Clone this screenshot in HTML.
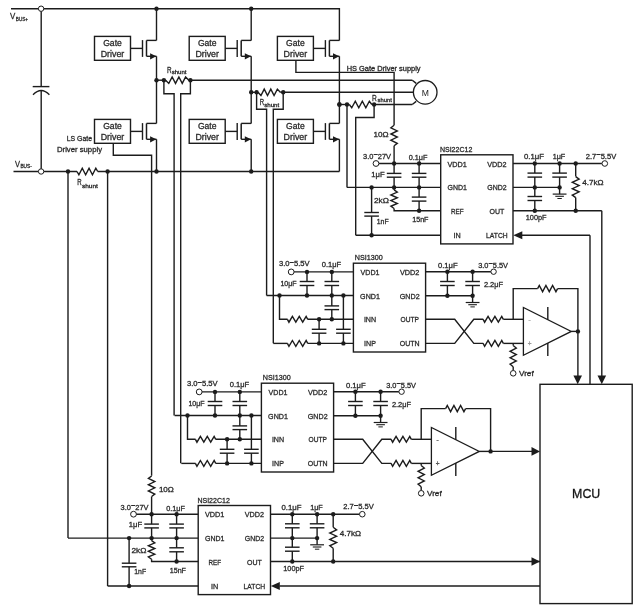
<!DOCTYPE html>
<html><head><meta charset="utf-8"><style>html,body{margin:0;padding:0;background:#fff;width:634px;height:611px;overflow:hidden}svg{display:block;will-change:transform}svg text{font-family:"Liberation Sans",sans-serif}</style></head><body>
<svg width="634" height="611" viewBox="0 0 634 611"><polyline points="11,8.7 339.4,8.7 339.4,40.4" fill="none" stroke="#1c1c1c" stroke-width="1.4"/>
<circle cx="156.5" cy="8.7" r="2.2" fill="#1c1c1c"/>
<circle cx="251.2" cy="8.7" r="2.2" fill="#1c1c1c"/>
<polyline points="41.2,8.7 41.2,86.6" fill="none" stroke="#1c1c1c" stroke-width="1.4"/>
<polyline points="32.7,86.6 49.4,86.6" fill="none" stroke="#1c1c1c" stroke-width="1.4"/>
<path d="M33,94.8 Q41.2,86.2 49.4,94.8" fill="none" stroke="#1c1c1c" stroke-width="1.3"/>
<polyline points="41.2,90.5 41.2,171.5" fill="none" stroke="#1c1c1c" stroke-width="1.4"/>
<circle cx="41.1" cy="8.7" r="2.7" fill="#fff" stroke="#1c1c1c" stroke-width="1"/>
<polyline points="13.5,171.5 77,171.5" fill="none" stroke="#1c1c1c" stroke-width="1.4"/>
<polyline points="77,171.5 78.87,174.8 82.26,168.2 85.65,174.8 89.05,168.2 92.44,174.8 95.83,168.2 97.7,171.5" fill="none" stroke="#1c1c1c" stroke-width="1.4"/>
<polyline points="97.7,171.5 339.4,171.5" fill="none" stroke="#1c1c1c" stroke-width="1.4"/>
<circle cx="41.1" cy="171.5" r="2.7" fill="#fff" stroke="#1c1c1c" stroke-width="1"/>
<circle cx="68" cy="171.5" r="2.2" fill="#1c1c1c"/>
<circle cx="107.6" cy="171.5" r="2.2" fill="#1c1c1c"/>
<circle cx="156.5" cy="171.5" r="2.2" fill="#1c1c1c"/>
<circle cx="251.2" cy="171.5" r="2.2" fill="#1c1c1c"/>
<text x="10.1" y="19.3" font-size="9.8" text-anchor="start" fill="#2a2a2a" stroke="#2a2a2a" stroke-width="0.3" textLength="5.3" lengthAdjust="spacingAndGlyphs">V</text>
<text x="15.8" y="21.2" font-size="5.8" text-anchor="start" fill="#2a2a2a" stroke="#2a2a2a" stroke-width="0.3" textLength="12.2" lengthAdjust="spacingAndGlyphs">BUS+</text>
<text x="15" y="166.8" font-size="9.4" text-anchor="start" fill="#2a2a2a" stroke="#2a2a2a" stroke-width="0.3" textLength="5" lengthAdjust="spacingAndGlyphs">V</text>
<text x="20.4" y="168.2" font-size="5.6" text-anchor="start" fill="#2a2a2a" stroke="#2a2a2a" stroke-width="0.3" textLength="11.4" lengthAdjust="spacingAndGlyphs">BUS-</text>
<text x="77.3" y="185" font-size="8.4" text-anchor="start" fill="#2a2a2a" stroke="#2a2a2a" stroke-width="0.3" textLength="4.4" lengthAdjust="spacingAndGlyphs">R</text>
<text x="81.9" y="187.5" font-size="5.9" text-anchor="start" fill="#2a2a2a" stroke="#2a2a2a" stroke-width="0.3" textLength="16" lengthAdjust="spacingAndGlyphs">shunt</text>
<polyline points="142.5,40.1 142.5,56.9" fill="none" stroke="#1c1c1c" stroke-width="1.4"/>
<polyline points="146.5,40.4 146.5,56.3" fill="none" stroke="#1c1c1c" stroke-width="1.5"/>
<polyline points="146.5,40.4 156.5,40.4" fill="none" stroke="#1c1c1c" stroke-width="1.4"/>
<polyline points="146.5,56.3 156.5,56.3" fill="none" stroke="#1c1c1c" stroke-width="1.4"/>
<polygon points="156.3,56.3 150.1,53.2 150.1,59.4" fill="#1c1c1c"/>
<polyline points="130.5,48.4 142.5,48.4" fill="none" stroke="#1c1c1c" stroke-width="1.4"/>
<rect x="94.5" y="36.4" width="36" height="23.9" fill="none" stroke="#1c1c1c" stroke-width="1.4"/>
<text x="112.5" y="45.9" font-size="8.6" text-anchor="middle" fill="#2a2a2a" stroke="#2a2a2a" stroke-width="0.3" textLength="18.6" lengthAdjust="spacingAndGlyphs">Gate</text>
<text x="112.5" y="57.3" font-size="8.6" text-anchor="middle" fill="#2a2a2a" stroke="#2a2a2a" stroke-width="0.3" textLength="23.6" lengthAdjust="spacingAndGlyphs">Driver</text>
<polyline points="142.5,123.1 142.5,139.9" fill="none" stroke="#1c1c1c" stroke-width="1.4"/>
<polyline points="146.5,123.4 146.5,139.3" fill="none" stroke="#1c1c1c" stroke-width="1.5"/>
<polyline points="146.5,123.4 156.5,123.4" fill="none" stroke="#1c1c1c" stroke-width="1.4"/>
<polyline points="146.5,139.3 156.5,139.3" fill="none" stroke="#1c1c1c" stroke-width="1.4"/>
<polygon points="156.3,139.3 150.1,136.2 150.1,142.4" fill="#1c1c1c"/>
<polyline points="130.5,131.4 142.5,131.4" fill="none" stroke="#1c1c1c" stroke-width="1.4"/>
<rect x="94.5" y="119.4" width="36" height="23.9" fill="none" stroke="#1c1c1c" stroke-width="1.4"/>
<text x="112.5" y="128.9" font-size="8.6" text-anchor="middle" fill="#2a2a2a" stroke="#2a2a2a" stroke-width="0.3" textLength="18.6" lengthAdjust="spacingAndGlyphs">Gate</text>
<text x="112.5" y="140.3" font-size="8.6" text-anchor="middle" fill="#2a2a2a" stroke="#2a2a2a" stroke-width="0.3" textLength="23.6" lengthAdjust="spacingAndGlyphs">Driver</text>
<polyline points="156.5,8.7 156.5,40.4" fill="none" stroke="#1c1c1c" stroke-width="1.4"/>
<polyline points="156.5,56.3 156.5,123.4" fill="none" stroke="#1c1c1c" stroke-width="1.4"/>
<polyline points="156.5,139.3 156.5,171.5" fill="none" stroke="#1c1c1c" stroke-width="1.4"/>
<circle cx="156.5" cy="80.2" r="2.2" fill="#1c1c1c"/>
<polyline points="237.2,40.1 237.2,56.9" fill="none" stroke="#1c1c1c" stroke-width="1.4"/>
<polyline points="241.2,40.4 241.2,56.3" fill="none" stroke="#1c1c1c" stroke-width="1.5"/>
<polyline points="241.2,40.4 251.2,40.4" fill="none" stroke="#1c1c1c" stroke-width="1.4"/>
<polyline points="241.2,56.3 251.2,56.3" fill="none" stroke="#1c1c1c" stroke-width="1.4"/>
<polygon points="251,56.3 244.8,53.2 244.8,59.4" fill="#1c1c1c"/>
<polyline points="225.2,48.4 237.2,48.4" fill="none" stroke="#1c1c1c" stroke-width="1.4"/>
<rect x="189.2" y="36.4" width="36" height="23.9" fill="none" stroke="#1c1c1c" stroke-width="1.4"/>
<text x="207.2" y="45.9" font-size="8.6" text-anchor="middle" fill="#2a2a2a" stroke="#2a2a2a" stroke-width="0.3" textLength="18.6" lengthAdjust="spacingAndGlyphs">Gate</text>
<text x="207.2" y="57.3" font-size="8.6" text-anchor="middle" fill="#2a2a2a" stroke="#2a2a2a" stroke-width="0.3" textLength="23.6" lengthAdjust="spacingAndGlyphs">Driver</text>
<polyline points="237.2,123.1 237.2,139.9" fill="none" stroke="#1c1c1c" stroke-width="1.4"/>
<polyline points="241.2,123.4 241.2,139.3" fill="none" stroke="#1c1c1c" stroke-width="1.5"/>
<polyline points="241.2,123.4 251.2,123.4" fill="none" stroke="#1c1c1c" stroke-width="1.4"/>
<polyline points="241.2,139.3 251.2,139.3" fill="none" stroke="#1c1c1c" stroke-width="1.4"/>
<polygon points="251,139.3 244.8,136.2 244.8,142.4" fill="#1c1c1c"/>
<polyline points="225.2,131.4 237.2,131.4" fill="none" stroke="#1c1c1c" stroke-width="1.4"/>
<rect x="189.2" y="119.4" width="36" height="23.9" fill="none" stroke="#1c1c1c" stroke-width="1.4"/>
<text x="207.2" y="128.9" font-size="8.6" text-anchor="middle" fill="#2a2a2a" stroke="#2a2a2a" stroke-width="0.3" textLength="18.6" lengthAdjust="spacingAndGlyphs">Gate</text>
<text x="207.2" y="140.3" font-size="8.6" text-anchor="middle" fill="#2a2a2a" stroke="#2a2a2a" stroke-width="0.3" textLength="23.6" lengthAdjust="spacingAndGlyphs">Driver</text>
<polyline points="251.2,8.7 251.2,40.4" fill="none" stroke="#1c1c1c" stroke-width="1.4"/>
<polyline points="251.2,56.3 251.2,123.4" fill="none" stroke="#1c1c1c" stroke-width="1.4"/>
<polyline points="251.2,139.3 251.2,171.5" fill="none" stroke="#1c1c1c" stroke-width="1.4"/>
<circle cx="251.2" cy="92.3" r="2.2" fill="#1c1c1c"/>
<polyline points="325.4,40.1 325.4,56.9" fill="none" stroke="#1c1c1c" stroke-width="1.4"/>
<polyline points="329.4,40.4 329.4,56.3" fill="none" stroke="#1c1c1c" stroke-width="1.5"/>
<polyline points="329.4,40.4 339.4,40.4" fill="none" stroke="#1c1c1c" stroke-width="1.4"/>
<polyline points="329.4,56.3 339.4,56.3" fill="none" stroke="#1c1c1c" stroke-width="1.4"/>
<polygon points="339.2,56.3 333,53.2 333,59.4" fill="#1c1c1c"/>
<polyline points="313.4,48.4 325.4,48.4" fill="none" stroke="#1c1c1c" stroke-width="1.4"/>
<rect x="277.4" y="36.4" width="36" height="23.9" fill="none" stroke="#1c1c1c" stroke-width="1.4"/>
<text x="295.4" y="45.9" font-size="8.6" text-anchor="middle" fill="#2a2a2a" stroke="#2a2a2a" stroke-width="0.3" textLength="18.6" lengthAdjust="spacingAndGlyphs">Gate</text>
<text x="295.4" y="57.3" font-size="8.6" text-anchor="middle" fill="#2a2a2a" stroke="#2a2a2a" stroke-width="0.3" textLength="23.6" lengthAdjust="spacingAndGlyphs">Driver</text>
<polyline points="325.4,123.1 325.4,139.9" fill="none" stroke="#1c1c1c" stroke-width="1.4"/>
<polyline points="329.4,123.4 329.4,139.3" fill="none" stroke="#1c1c1c" stroke-width="1.5"/>
<polyline points="329.4,123.4 339.4,123.4" fill="none" stroke="#1c1c1c" stroke-width="1.4"/>
<polyline points="329.4,139.3 339.4,139.3" fill="none" stroke="#1c1c1c" stroke-width="1.4"/>
<polygon points="339.2,139.3 333,136.2 333,142.4" fill="#1c1c1c"/>
<polyline points="313.4,131.4 325.4,131.4" fill="none" stroke="#1c1c1c" stroke-width="1.4"/>
<rect x="277.4" y="119.4" width="36" height="23.9" fill="none" stroke="#1c1c1c" stroke-width="1.4"/>
<text x="295.4" y="128.9" font-size="8.6" text-anchor="middle" fill="#2a2a2a" stroke="#2a2a2a" stroke-width="0.3" textLength="18.6" lengthAdjust="spacingAndGlyphs">Gate</text>
<text x="295.4" y="140.3" font-size="8.6" text-anchor="middle" fill="#2a2a2a" stroke="#2a2a2a" stroke-width="0.3" textLength="23.6" lengthAdjust="spacingAndGlyphs">Driver</text>
<polyline points="339.4,56.3 339.4,123.4" fill="none" stroke="#1c1c1c" stroke-width="1.4"/>
<polyline points="339.4,139.3 339.4,171.5" fill="none" stroke="#1c1c1c" stroke-width="1.4"/>
<circle cx="339.4" cy="104.5" r="2.2" fill="#1c1c1c"/>
<polyline points="113.3,143.1 113.3,155.2 151.6,155.2 151.6,475.8" fill="none" stroke="#1c1c1c" stroke-width="1.4"/>
<polyline points="295.9,60.3 295.9,72.4 394.1,72.4 394.1,125.3" fill="none" stroke="#1c1c1c" stroke-width="1.4"/>
<text x="66.8" y="141.1" font-size="7.5" text-anchor="start" fill="#2a2a2a" stroke="#2a2a2a" stroke-width="0.3" textLength="25.2" lengthAdjust="spacingAndGlyphs">LS Gate</text>
<text x="57" y="152" font-size="7.5" text-anchor="start" fill="#2a2a2a" stroke="#2a2a2a" stroke-width="0.3" textLength="45" lengthAdjust="spacingAndGlyphs">Driver supply</text>
<text x="346.7" y="71.1" font-size="6.9" text-anchor="start" fill="#2a2a2a" stroke="#2a2a2a" stroke-width="0.3" textLength="73.8" lengthAdjust="spacingAndGlyphs">HS Gate Driver supply</text>
<polyline points="156.5,80.2 165.6,80.2" fill="none" stroke="#1c1c1c" stroke-width="1.4"/>
<polyline points="165.6,80.2 168.79,83.4 172.16,77 175.52,83.4 178.88,77 182.24,83.4 185.61,77 188.8,80.2" fill="none" stroke="#1c1c1c" stroke-width="1.4"/>
<polyline points="188.8,80.2 412.3,80.2" fill="none" stroke="#1c1c1c" stroke-width="1.4"/>
<polyline points="412.3,80.2 416.2,83.4" fill="none" stroke="#1c1c1c" stroke-width="1.4"/>
<circle cx="163.9" cy="80.2" r="2.2" fill="#1c1c1c"/>
<circle cx="190.4" cy="80.2" r="2.2" fill="#1c1c1c"/>
<polyline points="163.9,80.2 163.9,93.8 174.1,93.8 174.1,415.6" fill="none" stroke="#1c1c1c" stroke-width="1.4"/>
<polyline points="190.4,80.2 190.4,93.8 180.7,93.8 180.7,463.3" fill="none" stroke="#1c1c1c" stroke-width="1.4"/>
<text x="167" y="72.9" font-size="8.4" text-anchor="start" fill="#2a2a2a" stroke="#2a2a2a" stroke-width="0.3" textLength="4.6" lengthAdjust="spacingAndGlyphs">R</text>
<text x="171.7" y="74.1" font-size="5.8" text-anchor="start" fill="#2a2a2a" stroke="#2a2a2a" stroke-width="0.3" textLength="14.8" lengthAdjust="spacingAndGlyphs">shunt</text>
<polyline points="251.2,92.3 258,92.3" fill="none" stroke="#1c1c1c" stroke-width="1.4"/>
<polyline points="258,92.3 260.95,95.5 264.23,89.1 267.51,95.5 270.79,89.1 274.07,95.5 277.35,89.1 280.3,92.3" fill="none" stroke="#1c1c1c" stroke-width="1.4"/>
<polyline points="280.3,92.3 413.4,92.3" fill="none" stroke="#1c1c1c" stroke-width="1.4"/>
<circle cx="256.6" cy="92.3" r="2.2" fill="#1c1c1c"/>
<circle cx="283.2" cy="92.3" r="2.2" fill="#1c1c1c"/>
<polyline points="256.6,92.3 256.6,109.3 266.6,109.3 266.6,295.5" fill="none" stroke="#1c1c1c" stroke-width="1.4"/>
<polyline points="283.2,92.3 283.2,109.3 273.3,109.3 273.3,343.3" fill="none" stroke="#1c1c1c" stroke-width="1.4"/>
<text x="259.8" y="105.4" font-size="8.6" text-anchor="start" fill="#2a2a2a" stroke="#2a2a2a" stroke-width="0.3" textLength="4.4" lengthAdjust="spacingAndGlyphs">R</text>
<text x="264.2" y="106.6" font-size="5.8" text-anchor="start" fill="#2a2a2a" stroke="#2a2a2a" stroke-width="0.3" textLength="15" lengthAdjust="spacingAndGlyphs">shunt</text>
<polyline points="339.4,104.5 349.3,104.5" fill="none" stroke="#1c1c1c" stroke-width="1.4"/>
<polyline points="349.3,104.5 351.76,107.8 355.28,101.2 358.79,107.8 362.31,101.2 365.82,107.8 369.34,101.2 371.8,104.5" fill="none" stroke="#1c1c1c" stroke-width="1.4"/>
<polyline points="371.8,104.5 412.3,104.5" fill="none" stroke="#1c1c1c" stroke-width="1.4"/>
<polyline points="412.3,104.5 416.2,101.4" fill="none" stroke="#1c1c1c" stroke-width="1.4"/>
<circle cx="339.4" cy="104.5" r="2.2" fill="#1c1c1c"/>
<circle cx="347" cy="104.5" r="2.2" fill="#1c1c1c"/>
<circle cx="374.1" cy="104.5" r="2.2" fill="#1c1c1c"/>
<polyline points="347,104.5 347,187.4" fill="none" stroke="#1c1c1c" stroke-width="1.4"/>
<polyline points="374.1,104.5 374.1,117.5 355.7,117.5 355.7,235.3" fill="none" stroke="#1c1c1c" stroke-width="1.4"/>
<text x="371.9" y="100.6" font-size="8.9" text-anchor="start" fill="#2a2a2a" stroke="#2a2a2a" stroke-width="0.3" textLength="4.8" lengthAdjust="spacingAndGlyphs">R</text>
<text x="377.5" y="102.1" font-size="5.8" text-anchor="start" fill="#2a2a2a" stroke="#2a2a2a" stroke-width="0.3" textLength="14.3" lengthAdjust="spacingAndGlyphs">shunt</text>
<circle cx="425.2" cy="92.3" r="11.8" fill="none" stroke="#1c1c1c" stroke-width="1.3"/>
<text x="425.3" y="95.9" font-size="9.8" text-anchor="middle" fill="#222" textLength="7.2" lengthAdjust="spacingAndGlyphs">M</text>
<polyline points="394.1,125.3 390.9,127.78 397.3,130.89 390.9,134 397.3,137.1 390.9,140.21 397.3,143.32 394.1,145.8" fill="none" stroke="#1c1c1c" stroke-width="1.4"/>
<polyline points="394.1,145.8 394.1,163.5" fill="none" stroke="#1c1c1c" stroke-width="1.4"/>
<circle cx="376" cy="163.5" r="2.9" fill="#fff" stroke="#1c1c1c" stroke-width="1"/>
<polyline points="378.9,163.5 440.7,163.5" fill="none" stroke="#1c1c1c" stroke-width="1.4"/>
<circle cx="394.1" cy="163.5" r="2.2" fill="#1c1c1c"/>
<circle cx="419.1" cy="163.5" r="2.2" fill="#1c1c1c"/>
<polyline points="394.1,163.5 394.1,173.4" fill="none" stroke="#1c1c1c" stroke-width="1.4"/>
<polyline points="386.8,173.4 401.4,173.4" fill="none" stroke="#1c1c1c" stroke-width="1.4"/>
<polyline points="386.8,177.2 401.4,177.2" fill="none" stroke="#1c1c1c" stroke-width="1.4"/>
<polyline points="394.1,177.2 394.1,187.4" fill="none" stroke="#1c1c1c" stroke-width="1.4"/>
<polyline points="419.1,163.5 419.1,173.4" fill="none" stroke="#1c1c1c" stroke-width="1.4"/>
<polyline points="411.8,173.4 426.4,173.4" fill="none" stroke="#1c1c1c" stroke-width="1.4"/>
<polyline points="411.8,177.2 426.4,177.2" fill="none" stroke="#1c1c1c" stroke-width="1.4"/>
<polyline points="419.1,177.2 419.1,187.4" fill="none" stroke="#1c1c1c" stroke-width="1.4"/>
<polyline points="347,187.4 440.7,187.4" fill="none" stroke="#1c1c1c" stroke-width="1.4"/>
<circle cx="371.6" cy="187.4" r="2.2" fill="#1c1c1c"/>
<circle cx="394.1" cy="187.4" r="2.2" fill="#1c1c1c"/>
<circle cx="419.1" cy="187.4" r="2.2" fill="#1c1c1c"/>
<polyline points="394.1,189.9 397.3,192.15 390.9,194.97 397.3,197.79 390.9,200.61 397.3,203.43 390.9,206.25 394.1,208.5" fill="none" stroke="#1c1c1c" stroke-width="1.4"/>
<polyline points="394.1,187.4 394.1,189.9" fill="none" stroke="#1c1c1c" stroke-width="1.4"/>
<polyline points="394.1,208.5 394.1,210.8 440.7,210.8" fill="none" stroke="#1c1c1c" stroke-width="1.4"/>
<polyline points="419.1,187.4 419.1,197.1" fill="none" stroke="#1c1c1c" stroke-width="1.4"/>
<polyline points="411.8,197.1 426.4,197.1" fill="none" stroke="#1c1c1c" stroke-width="1.4"/>
<polyline points="411.8,201.1 426.4,201.1" fill="none" stroke="#1c1c1c" stroke-width="1.4"/>
<polyline points="419.1,201.1 419.1,210.8" fill="none" stroke="#1c1c1c" stroke-width="1.4"/>
<circle cx="419.1" cy="210.8" r="2.2" fill="#1c1c1c"/>
<polyline points="371.6,187.4 371.6,212.5" fill="none" stroke="#1c1c1c" stroke-width="1.4"/>
<polyline points="364.3,212.5 378.9,212.5" fill="none" stroke="#1c1c1c" stroke-width="1.4"/>
<polyline points="364.3,216.1 378.9,216.1" fill="none" stroke="#1c1c1c" stroke-width="1.4"/>
<polyline points="371.6,216.1 371.6,235.3" fill="none" stroke="#1c1c1c" stroke-width="1.4"/>
<polyline points="355.7,235.3 440.7,235.3" fill="none" stroke="#1c1c1c" stroke-width="1.4"/>
<circle cx="371.6" cy="235.3" r="2.2" fill="#1c1c1c"/>
<text x="373.5" y="137.3" font-size="7.6" text-anchor="start" fill="#2a2a2a" stroke="#2a2a2a" stroke-width="0.3" textLength="15.1" lengthAdjust="spacingAndGlyphs">10Ω</text>
<text x="363.1" y="159" font-size="7.6" text-anchor="start" fill="#2a2a2a" stroke="#2a2a2a" stroke-width="0.3" textLength="27.9" lengthAdjust="spacingAndGlyphs">3.0<tspan dy="-1.6">~</tspan><tspan dy="1.6">27V</tspan></text>
<text x="408.7" y="160.1" font-size="7.6" text-anchor="start" fill="#2a2a2a" stroke="#2a2a2a" stroke-width="0.3" textLength="18.8" lengthAdjust="spacingAndGlyphs">0.1μF</text>
<text x="371.3" y="176.6" font-size="7.6" text-anchor="start" fill="#2a2a2a" stroke="#2a2a2a" stroke-width="0.3" textLength="13.3" lengthAdjust="spacingAndGlyphs">1μF</text>
<text x="374" y="202.6" font-size="7.6" text-anchor="start" fill="#2a2a2a" stroke="#2a2a2a" stroke-width="0.3" textLength="15" lengthAdjust="spacingAndGlyphs">2kΩ</text>
<text x="412.2" y="221.9" font-size="7.6" text-anchor="start" fill="#2a2a2a" stroke="#2a2a2a" stroke-width="0.3" textLength="16.3" lengthAdjust="spacingAndGlyphs">15nF</text>
<text x="376.8" y="223.6" font-size="7.6" text-anchor="start" fill="#2a2a2a" stroke="#2a2a2a" stroke-width="0.3" textLength="11.8" lengthAdjust="spacingAndGlyphs">1nF</text>
<rect x="440.7" y="154.8" width="72.3" height="89.1" fill="none" stroke="#1c1c1c" stroke-width="1.4"/>
<text x="439.9" y="152.3" font-size="7.6" text-anchor="start" fill="#2a2a2a" stroke="#2a2a2a" stroke-width="0.3" textLength="32.4" lengthAdjust="spacingAndGlyphs">NSI22C12</text>
<text x="457.2" y="166.7" font-size="7.85" text-anchor="middle" fill="#2a2a2a" stroke="#2a2a2a" stroke-width="0.3" textLength="19.4" lengthAdjust="spacingAndGlyphs">VDD1</text>
<text x="457.2" y="190.1" font-size="7.85" text-anchor="middle" fill="#2a2a2a" stroke="#2a2a2a" stroke-width="0.3" textLength="19.4" lengthAdjust="spacingAndGlyphs">GND1</text>
<text x="457.2" y="213.9" font-size="7.85" text-anchor="middle" fill="#2a2a2a" stroke="#2a2a2a" stroke-width="0.3" textLength="12.6" lengthAdjust="spacingAndGlyphs">REF</text>
<text x="457.2" y="237.8" font-size="7.85" text-anchor="middle" fill="#2a2a2a" stroke="#2a2a2a" stroke-width="0.3" textLength="7.2" lengthAdjust="spacingAndGlyphs">IN</text>
<text x="496.9" y="166.7" font-size="7.85" text-anchor="middle" fill="#2a2a2a" stroke="#2a2a2a" stroke-width="0.3" textLength="19.3" lengthAdjust="spacingAndGlyphs">VDD2</text>
<text x="496.9" y="190.1" font-size="7.85" text-anchor="middle" fill="#2a2a2a" stroke="#2a2a2a" stroke-width="0.3" textLength="19.3" lengthAdjust="spacingAndGlyphs">GND2</text>
<text x="496.9" y="213.9" font-size="7.85" text-anchor="middle" fill="#2a2a2a" stroke="#2a2a2a" stroke-width="0.3" textLength="14.8" lengthAdjust="spacingAndGlyphs">OUT</text>
<text x="496.9" y="237.8" font-size="7.85" text-anchor="middle" fill="#2a2a2a" stroke="#2a2a2a" stroke-width="0.3" textLength="21.6" lengthAdjust="spacingAndGlyphs">LATCH</text>
<polyline points="513,163.5 601.9,163.5" fill="none" stroke="#1c1c1c" stroke-width="1.4"/>
<circle cx="604.8" cy="163.5" r="2.8" fill="#fff" stroke="#1c1c1c" stroke-width="1"/>
<circle cx="534.8" cy="163.5" r="2.2" fill="#1c1c1c"/>
<circle cx="559.6" cy="163.5" r="2.2" fill="#1c1c1c"/>
<circle cx="575.7" cy="163.5" r="2.2" fill="#1c1c1c"/>
<polyline points="534.8,163.5 534.8,173.1" fill="none" stroke="#1c1c1c" stroke-width="1.4"/>
<polyline points="527.5,173.1 542.1,173.1" fill="none" stroke="#1c1c1c" stroke-width="1.4"/>
<polyline points="527.5,177.1 542.1,177.1" fill="none" stroke="#1c1c1c" stroke-width="1.4"/>
<polyline points="534.8,177.1 534.8,187.4" fill="none" stroke="#1c1c1c" stroke-width="1.4"/>
<polyline points="559.6,163.5 559.6,173.1" fill="none" stroke="#1c1c1c" stroke-width="1.4"/>
<polyline points="552.3,173.1 566.9,173.1" fill="none" stroke="#1c1c1c" stroke-width="1.4"/>
<polyline points="552.3,177.1 566.9,177.1" fill="none" stroke="#1c1c1c" stroke-width="1.4"/>
<polyline points="559.6,177.1 559.6,187.4" fill="none" stroke="#1c1c1c" stroke-width="1.4"/>
<polyline points="513,187.4 559.6,187.4" fill="none" stroke="#1c1c1c" stroke-width="1.4"/>
<circle cx="534.8" cy="187.4" r="2.2" fill="#1c1c1c"/>
<circle cx="559.6" cy="187.4" r="2.2" fill="#1c1c1c"/>
<polyline points="559.6,187.4 559.6,194.1" fill="none" stroke="#1c1c1c" stroke-width="1.4"/>
<polyline points="552.7,194.1 566.5,194.1" fill="none" stroke="#1c1c1c" stroke-width="1.2"/>
<polyline points="555.3,196.3 563.9,196.3" fill="none" stroke="#1c1c1c" stroke-width="1.1"/>
<polyline points="557.4,198.5 561.8,198.5" fill="none" stroke="#1c1c1c" stroke-width="1"/>
<polyline points="534.8,187.4 534.8,196.5" fill="none" stroke="#1c1c1c" stroke-width="1.4"/>
<polyline points="527.5,196.5 542.1,196.5" fill="none" stroke="#1c1c1c" stroke-width="1.4"/>
<polyline points="527.5,200.5 542.1,200.5" fill="none" stroke="#1c1c1c" stroke-width="1.4"/>
<polyline points="534.8,200.5 534.8,210.8" fill="none" stroke="#1c1c1c" stroke-width="1.4"/>
<polyline points="575.7,176.6 579.1,179.15 572.3,182.33 579.1,185.51 572.3,188.69 579.1,191.87 572.3,195.05 575.7,197.6" fill="none" stroke="#1c1c1c" stroke-width="1.4"/>
<polyline points="575.7,163.5 575.7,176.6" fill="none" stroke="#1c1c1c" stroke-width="1.4"/>
<polyline points="575.7,197.6 575.7,210.8" fill="none" stroke="#1c1c1c" stroke-width="1.4"/>
<circle cx="534.8" cy="210.8" r="2.2" fill="#1c1c1c"/>
<circle cx="575.7" cy="210.8" r="2.2" fill="#1c1c1c"/>
<text x="524" y="159.4" font-size="7.6" text-anchor="start" fill="#2a2a2a" stroke="#2a2a2a" stroke-width="0.3" textLength="20" lengthAdjust="spacingAndGlyphs">0.1μF</text>
<text x="552.7" y="159.4" font-size="7.6" text-anchor="start" fill="#2a2a2a" stroke="#2a2a2a" stroke-width="0.3" textLength="12.6" lengthAdjust="spacingAndGlyphs">1μF</text>
<text x="585.7" y="158.6" font-size="7.6" text-anchor="start" fill="#2a2a2a" stroke="#2a2a2a" stroke-width="0.3" textLength="30.5" lengthAdjust="spacingAndGlyphs">2.7<tspan dy="-1.6">~</tspan><tspan dy="1.6">5.5V</tspan></text>
<text x="582.2" y="184.8" font-size="7.6" text-anchor="start" fill="#2a2a2a" stroke="#2a2a2a" stroke-width="0.3" textLength="21.3" lengthAdjust="spacingAndGlyphs">4.7kΩ</text>
<text x="525.8" y="219.9" font-size="7.6" text-anchor="start" fill="#2a2a2a" stroke="#2a2a2a" stroke-width="0.3" textLength="20.8" lengthAdjust="spacingAndGlyphs">100pF</text>
<polygon points="513.3,235.3 522.3,231.3 522.3,239.3" fill="#1c1c1c"/>
<polyline points="513,210.8 601.8,210.8" fill="none" stroke="#1c1c1c" stroke-width="1.4"/>
<polyline points="522,235.3 590,235.3" fill="none" stroke="#1c1c1c" stroke-width="1.4"/>
<polyline points="151.6,476 148.4,478.48 154.8,481.59 148.4,484.7 154.8,487.8 148.4,490.91 154.8,494.02 151.6,496.5" fill="none" stroke="#1c1c1c" stroke-width="1.4"/>
<polyline points="151.6,496.5 151.6,514.2" fill="none" stroke="#1c1c1c" stroke-width="1.4"/>
<circle cx="133.5" cy="514.2" r="2.9" fill="#fff" stroke="#1c1c1c" stroke-width="1"/>
<polyline points="136.4,514.2 198.2,514.2" fill="none" stroke="#1c1c1c" stroke-width="1.4"/>
<circle cx="151.6" cy="514.2" r="2.2" fill="#1c1c1c"/>
<circle cx="176.6" cy="514.2" r="2.2" fill="#1c1c1c"/>
<polyline points="151.6,514.2 151.6,524.1" fill="none" stroke="#1c1c1c" stroke-width="1.4"/>
<polyline points="144.3,524.1 158.9,524.1" fill="none" stroke="#1c1c1c" stroke-width="1.4"/>
<polyline points="144.3,527.9 158.9,527.9" fill="none" stroke="#1c1c1c" stroke-width="1.4"/>
<polyline points="151.6,527.9 151.6,538.1" fill="none" stroke="#1c1c1c" stroke-width="1.4"/>
<polyline points="176.6,514.2 176.6,524.1" fill="none" stroke="#1c1c1c" stroke-width="1.4"/>
<polyline points="169.3,524.1 183.9,524.1" fill="none" stroke="#1c1c1c" stroke-width="1.4"/>
<polyline points="169.3,527.9 183.9,527.9" fill="none" stroke="#1c1c1c" stroke-width="1.4"/>
<polyline points="176.6,527.9 176.6,538.1" fill="none" stroke="#1c1c1c" stroke-width="1.4"/>
<polyline points="68,538.1 198.2,538.1" fill="none" stroke="#1c1c1c" stroke-width="1.4"/>
<circle cx="129.1" cy="538.1" r="2.2" fill="#1c1c1c"/>
<circle cx="151.6" cy="538.1" r="2.2" fill="#1c1c1c"/>
<circle cx="176.6" cy="538.1" r="2.2" fill="#1c1c1c"/>
<polyline points="151.6,540.6 154.8,542.85 148.4,545.67 154.8,548.49 148.4,551.31 154.8,554.13 148.4,556.95 151.6,559.2" fill="none" stroke="#1c1c1c" stroke-width="1.4"/>
<polyline points="151.6,538.1 151.6,540.6" fill="none" stroke="#1c1c1c" stroke-width="1.4"/>
<polyline points="151.6,559.2 151.6,561.5 198.2,561.5" fill="none" stroke="#1c1c1c" stroke-width="1.4"/>
<polyline points="176.6,538.1 176.6,547.8" fill="none" stroke="#1c1c1c" stroke-width="1.4"/>
<polyline points="169.3,547.8 183.9,547.8" fill="none" stroke="#1c1c1c" stroke-width="1.4"/>
<polyline points="169.3,551.8 183.9,551.8" fill="none" stroke="#1c1c1c" stroke-width="1.4"/>
<polyline points="176.6,551.8 176.6,561.5" fill="none" stroke="#1c1c1c" stroke-width="1.4"/>
<circle cx="176.6" cy="561.5" r="2.2" fill="#1c1c1c"/>
<polyline points="129.1,538.1 129.1,563.2" fill="none" stroke="#1c1c1c" stroke-width="1.4"/>
<polyline points="121.8,563.2 136.4,563.2" fill="none" stroke="#1c1c1c" stroke-width="1.4"/>
<polyline points="121.8,566.8 136.4,566.8" fill="none" stroke="#1c1c1c" stroke-width="1.4"/>
<polyline points="129.1,566.8 129.1,586" fill="none" stroke="#1c1c1c" stroke-width="1.4"/>
<polyline points="107.6,586 198.2,586" fill="none" stroke="#1c1c1c" stroke-width="1.4"/>
<circle cx="129.1" cy="586" r="2.2" fill="#1c1c1c"/>
<text x="158.9" y="492.4" font-size="7.6" text-anchor="start" fill="#2a2a2a" stroke="#2a2a2a" stroke-width="0.3" textLength="15" lengthAdjust="spacingAndGlyphs">10Ω</text>
<text x="120.6" y="509.7" font-size="7.6" text-anchor="start" fill="#2a2a2a" stroke="#2a2a2a" stroke-width="0.3" textLength="27.9" lengthAdjust="spacingAndGlyphs">3.0<tspan dy="-1.6">~</tspan><tspan dy="1.6">27V</tspan></text>
<text x="166.2" y="510.8" font-size="7.6" text-anchor="start" fill="#2a2a2a" stroke="#2a2a2a" stroke-width="0.3" textLength="18.8" lengthAdjust="spacingAndGlyphs">0.1μF</text>
<text x="128.8" y="527.3" font-size="7.6" text-anchor="start" fill="#2a2a2a" stroke="#2a2a2a" stroke-width="0.3" textLength="13.3" lengthAdjust="spacingAndGlyphs">1μF</text>
<text x="131.5" y="553.3" font-size="7.6" text-anchor="start" fill="#2a2a2a" stroke="#2a2a2a" stroke-width="0.3" textLength="15" lengthAdjust="spacingAndGlyphs">2kΩ</text>
<text x="169.7" y="572.6" font-size="7.6" text-anchor="start" fill="#2a2a2a" stroke="#2a2a2a" stroke-width="0.3" textLength="16.3" lengthAdjust="spacingAndGlyphs">15nF</text>
<text x="134.3" y="574.3" font-size="7.6" text-anchor="start" fill="#2a2a2a" stroke="#2a2a2a" stroke-width="0.3" textLength="11.8" lengthAdjust="spacingAndGlyphs">1nF</text>
<rect x="198.2" y="505.5" width="72.3" height="89.1" fill="none" stroke="#1c1c1c" stroke-width="1.4"/>
<text x="197.4" y="503" font-size="7.6" text-anchor="start" fill="#2a2a2a" stroke="#2a2a2a" stroke-width="0.3" textLength="32.4" lengthAdjust="spacingAndGlyphs">NSI22C12</text>
<text x="214.7" y="517.4" font-size="7.85" text-anchor="middle" fill="#2a2a2a" stroke="#2a2a2a" stroke-width="0.3" textLength="19.4" lengthAdjust="spacingAndGlyphs">VDD1</text>
<text x="214.7" y="540.8" font-size="7.85" text-anchor="middle" fill="#2a2a2a" stroke="#2a2a2a" stroke-width="0.3" textLength="19.4" lengthAdjust="spacingAndGlyphs">GND1</text>
<text x="214.7" y="564.6" font-size="7.85" text-anchor="middle" fill="#2a2a2a" stroke="#2a2a2a" stroke-width="0.3" textLength="12.6" lengthAdjust="spacingAndGlyphs">REF</text>
<text x="214.7" y="588.5" font-size="7.85" text-anchor="middle" fill="#2a2a2a" stroke="#2a2a2a" stroke-width="0.3" textLength="7.2" lengthAdjust="spacingAndGlyphs">IN</text>
<text x="254.4" y="517.4" font-size="7.85" text-anchor="middle" fill="#2a2a2a" stroke="#2a2a2a" stroke-width="0.3" textLength="19.3" lengthAdjust="spacingAndGlyphs">VDD2</text>
<text x="254.4" y="540.8" font-size="7.85" text-anchor="middle" fill="#2a2a2a" stroke="#2a2a2a" stroke-width="0.3" textLength="19.3" lengthAdjust="spacingAndGlyphs">GND2</text>
<text x="254.4" y="564.6" font-size="7.85" text-anchor="middle" fill="#2a2a2a" stroke="#2a2a2a" stroke-width="0.3" textLength="14.8" lengthAdjust="spacingAndGlyphs">OUT</text>
<text x="254.4" y="588.5" font-size="7.85" text-anchor="middle" fill="#2a2a2a" stroke="#2a2a2a" stroke-width="0.3" textLength="21.6" lengthAdjust="spacingAndGlyphs">LATCH</text>
<polyline points="270.5,514.2 359.4,514.2" fill="none" stroke="#1c1c1c" stroke-width="1.4"/>
<circle cx="362.3" cy="514.2" r="2.8" fill="#fff" stroke="#1c1c1c" stroke-width="1"/>
<circle cx="292.3" cy="514.2" r="2.2" fill="#1c1c1c"/>
<circle cx="317.1" cy="514.2" r="2.2" fill="#1c1c1c"/>
<circle cx="333.2" cy="514.2" r="2.2" fill="#1c1c1c"/>
<polyline points="292.3,514.2 292.3,523.8" fill="none" stroke="#1c1c1c" stroke-width="1.4"/>
<polyline points="285,523.8 299.6,523.8" fill="none" stroke="#1c1c1c" stroke-width="1.4"/>
<polyline points="285,527.8 299.6,527.8" fill="none" stroke="#1c1c1c" stroke-width="1.4"/>
<polyline points="292.3,527.8 292.3,538.1" fill="none" stroke="#1c1c1c" stroke-width="1.4"/>
<polyline points="317.1,514.2 317.1,523.8" fill="none" stroke="#1c1c1c" stroke-width="1.4"/>
<polyline points="309.8,523.8 324.4,523.8" fill="none" stroke="#1c1c1c" stroke-width="1.4"/>
<polyline points="309.8,527.8 324.4,527.8" fill="none" stroke="#1c1c1c" stroke-width="1.4"/>
<polyline points="317.1,527.8 317.1,538.1" fill="none" stroke="#1c1c1c" stroke-width="1.4"/>
<polyline points="270.5,538.1 317.1,538.1" fill="none" stroke="#1c1c1c" stroke-width="1.4"/>
<circle cx="292.3" cy="538.1" r="2.2" fill="#1c1c1c"/>
<circle cx="317.1" cy="538.1" r="2.2" fill="#1c1c1c"/>
<polyline points="317.1,538.1 317.1,544.8" fill="none" stroke="#1c1c1c" stroke-width="1.4"/>
<polyline points="310.2,544.8 324,544.8" fill="none" stroke="#1c1c1c" stroke-width="1.2"/>
<polyline points="312.8,547 321.4,547" fill="none" stroke="#1c1c1c" stroke-width="1.1"/>
<polyline points="314.9,549.2 319.3,549.2" fill="none" stroke="#1c1c1c" stroke-width="1"/>
<polyline points="292.3,538.1 292.3,547.2" fill="none" stroke="#1c1c1c" stroke-width="1.4"/>
<polyline points="285,547.2 299.6,547.2" fill="none" stroke="#1c1c1c" stroke-width="1.4"/>
<polyline points="285,551.2 299.6,551.2" fill="none" stroke="#1c1c1c" stroke-width="1.4"/>
<polyline points="292.3,551.2 292.3,561.5" fill="none" stroke="#1c1c1c" stroke-width="1.4"/>
<polyline points="333.2,527.3 336.6,529.85 329.8,533.03 336.6,536.21 329.8,539.39 336.6,542.57 329.8,545.75 333.2,548.3" fill="none" stroke="#1c1c1c" stroke-width="1.4"/>
<polyline points="333.2,514.2 333.2,527.3" fill="none" stroke="#1c1c1c" stroke-width="1.4"/>
<polyline points="333.2,548.3 333.2,561.5" fill="none" stroke="#1c1c1c" stroke-width="1.4"/>
<circle cx="292.3" cy="561.5" r="2.2" fill="#1c1c1c"/>
<circle cx="333.2" cy="561.5" r="2.2" fill="#1c1c1c"/>
<text x="281.5" y="510.1" font-size="7.6" text-anchor="start" fill="#2a2a2a" stroke="#2a2a2a" stroke-width="0.3" textLength="20" lengthAdjust="spacingAndGlyphs">0.1μF</text>
<text x="310.2" y="510.1" font-size="7.6" text-anchor="start" fill="#2a2a2a" stroke="#2a2a2a" stroke-width="0.3" textLength="12.6" lengthAdjust="spacingAndGlyphs">1μF</text>
<text x="343.2" y="509.3" font-size="7.6" text-anchor="start" fill="#2a2a2a" stroke="#2a2a2a" stroke-width="0.3" textLength="30.5" lengthAdjust="spacingAndGlyphs">2.7<tspan dy="-1.6">~</tspan><tspan dy="1.6">5.5V</tspan></text>
<text x="339.7" y="535.5" font-size="7.6" text-anchor="start" fill="#2a2a2a" stroke="#2a2a2a" stroke-width="0.3" textLength="21.3" lengthAdjust="spacingAndGlyphs">4.7kΩ</text>
<text x="283.3" y="570.6" font-size="7.6" text-anchor="start" fill="#2a2a2a" stroke="#2a2a2a" stroke-width="0.3" textLength="20.8" lengthAdjust="spacingAndGlyphs">100pF</text>
<polygon points="270.8,586 279.8,582 279.8,590" fill="#1c1c1c"/>
<polyline points="270.5,561.5 540,561.5" fill="none" stroke="#1c1c1c" stroke-width="1.4"/>
<polyline points="279.5,586 540,586" fill="none" stroke="#1c1c1c" stroke-width="1.4"/>
<polyline points="601.8,210.8 601.8,376" fill="none" stroke="#1c1c1c" stroke-width="1.4"/>
<polygon points="601.8,384.3 597.5,375.5 606.1,375.5" fill="#1c1c1c"/>
<polyline points="590,235.3 590,384.3" fill="none" stroke="#1c1c1c" stroke-width="1.4"/>
<polygon points="540,561.5 531.5,557.2 531.5,565.8" fill="#1c1c1c"/>
<polyline points="68,171.5 68,538.1" fill="none" stroke="#1c1c1c" stroke-width="1.4"/>
<polyline points="107.6,171.5 107.6,586" fill="none" stroke="#1c1c1c" stroke-width="1.4"/>
<circle cx="291.2" cy="271.9" r="2.9" fill="#fff" stroke="#1c1c1c" stroke-width="1"/>
<polyline points="294.1,271.9 353.4,271.9" fill="none" stroke="#1c1c1c" stroke-width="1.4"/>
<circle cx="307" cy="271.9" r="2.2" fill="#1c1c1c"/>
<circle cx="331.8" cy="271.9" r="2.2" fill="#1c1c1c"/>
<polyline points="307,271.9 307,281.5" fill="none" stroke="#1c1c1c" stroke-width="1.4"/>
<polyline points="299.7,281.5 314.3,281.5" fill="none" stroke="#1c1c1c" stroke-width="1.4"/>
<polyline points="299.7,285.5 314.3,285.5" fill="none" stroke="#1c1c1c" stroke-width="1.4"/>
<polyline points="307,285.5 307,295.5" fill="none" stroke="#1c1c1c" stroke-width="1.4"/>
<polyline points="331.8,271.9 331.8,281.5" fill="none" stroke="#1c1c1c" stroke-width="1.4"/>
<polyline points="324.5,281.5 339.1,281.5" fill="none" stroke="#1c1c1c" stroke-width="1.4"/>
<polyline points="324.5,285.5 339.1,285.5" fill="none" stroke="#1c1c1c" stroke-width="1.4"/>
<polyline points="331.8,285.5 331.8,295.5" fill="none" stroke="#1c1c1c" stroke-width="1.4"/>
<polyline points="266.6,295.5 353.4,295.5" fill="none" stroke="#1c1c1c" stroke-width="1.4"/>
<circle cx="279.5" cy="295.5" r="2.2" fill="#1c1c1c"/>
<circle cx="307" cy="295.5" r="2.2" fill="#1c1c1c"/>
<circle cx="331.8" cy="295.5" r="2.2" fill="#1c1c1c"/>
<circle cx="343.4" cy="295.5" r="2.2" fill="#1c1c1c"/>
<polyline points="331.8,295.5 331.8,305.9" fill="none" stroke="#1c1c1c" stroke-width="1.4"/>
<polyline points="324.5,305.9 339.1,305.9" fill="none" stroke="#1c1c1c" stroke-width="1.4"/>
<polyline points="324.5,309.6 339.1,309.6" fill="none" stroke="#1c1c1c" stroke-width="1.4"/>
<polyline points="331.8,309.6 331.8,319.3" fill="none" stroke="#1c1c1c" stroke-width="1.4"/>
<polyline points="279.5,295.5 279.5,319.3 287.6,319.3" fill="none" stroke="#1c1c1c" stroke-width="1.4"/>
<polyline points="287.4,319.3 288.95,322.2 292.39,316.4 295.83,322.2 299.27,316.4 302.71,322.2 306.15,316.4 307.7,319.3" fill="none" stroke="#1c1c1c" stroke-width="1.4"/>
<polyline points="307.6,319.3 353.4,319.3" fill="none" stroke="#1c1c1c" stroke-width="1.4"/>
<circle cx="319.1" cy="319.3" r="2.2" fill="#1c1c1c"/>
<circle cx="331.8" cy="319.3" r="2.2" fill="#1c1c1c"/>
<polyline points="319.1,319.3 319.1,329.3" fill="none" stroke="#1c1c1c" stroke-width="1.4"/>
<polyline points="311.8,329.3 326.4,329.3" fill="none" stroke="#1c1c1c" stroke-width="1.4"/>
<polyline points="311.8,333.2 326.4,333.2" fill="none" stroke="#1c1c1c" stroke-width="1.4"/>
<polyline points="319.1,333.2 319.1,343.4" fill="none" stroke="#1c1c1c" stroke-width="1.4"/>
<polyline points="343.4,295.5 343.4,329.3" fill="none" stroke="#1c1c1c" stroke-width="1.4"/>
<polyline points="336.1,329.3 350.7,329.3" fill="none" stroke="#1c1c1c" stroke-width="1.4"/>
<polyline points="336.1,333.2 350.7,333.2" fill="none" stroke="#1c1c1c" stroke-width="1.4"/>
<polyline points="343.4,333.2 343.4,343.4" fill="none" stroke="#1c1c1c" stroke-width="1.4"/>
<polyline points="273.3,343.4 287.6,343.4" fill="none" stroke="#1c1c1c" stroke-width="1.4"/>
<polyline points="287.4,343.4 288.95,346.3 292.39,340.5 295.83,346.3 299.27,340.5 302.71,346.3 306.15,340.5 307.7,343.4" fill="none" stroke="#1c1c1c" stroke-width="1.4"/>
<polyline points="307.6,343.4 353.4,343.4" fill="none" stroke="#1c1c1c" stroke-width="1.4"/>
<circle cx="319.1" cy="343.4" r="2.2" fill="#1c1c1c"/>
<circle cx="343.4" cy="343.4" r="2.2" fill="#1c1c1c"/>
<text x="279" y="266.3" font-size="7.6" text-anchor="start" fill="#2a2a2a" stroke="#2a2a2a" stroke-width="0.3" textLength="30.6" lengthAdjust="spacingAndGlyphs">3.0<tspan dy="-1.6">~</tspan><tspan dy="1.6">5.5V</tspan></text>
<text x="321.8" y="267.4" font-size="7.6" text-anchor="start" fill="#2a2a2a" stroke="#2a2a2a" stroke-width="0.3" textLength="19.4" lengthAdjust="spacingAndGlyphs">0.1μF</text>
<text x="280.4" y="285.8" font-size="7.6" text-anchor="start" fill="#2a2a2a" stroke="#2a2a2a" stroke-width="0.3" textLength="16.2" lengthAdjust="spacingAndGlyphs">10μF</text>
<rect x="353.4" y="263.2" width="72.2" height="88.8" fill="none" stroke="#1c1c1c" stroke-width="1.4"/>
<text x="354.8" y="260.2" font-size="7.6" text-anchor="start" fill="#2a2a2a" stroke="#2a2a2a" stroke-width="0.3" textLength="27.9" lengthAdjust="spacingAndGlyphs">NSI1300</text>
<text x="370" y="274.8" font-size="7.85" text-anchor="middle" fill="#2a2a2a" stroke="#2a2a2a" stroke-width="0.3" textLength="18.9" lengthAdjust="spacingAndGlyphs">VDD1</text>
<text x="370" y="298.6" font-size="7.85" text-anchor="middle" fill="#2a2a2a" stroke="#2a2a2a" stroke-width="0.3" textLength="19.8" lengthAdjust="spacingAndGlyphs">GND1</text>
<text x="370" y="322" font-size="7.85" text-anchor="middle" fill="#2a2a2a" stroke="#2a2a2a" stroke-width="0.3" textLength="12.2" lengthAdjust="spacingAndGlyphs">INN</text>
<text x="370" y="346.2" font-size="7.85" text-anchor="middle" fill="#2a2a2a" stroke="#2a2a2a" stroke-width="0.3" textLength="11.8" lengthAdjust="spacingAndGlyphs">INP</text>
<text x="409.7" y="274.8" font-size="7.85" text-anchor="middle" fill="#2a2a2a" stroke="#2a2a2a" stroke-width="0.3" textLength="19.4" lengthAdjust="spacingAndGlyphs">VDD2</text>
<text x="409.7" y="298.6" font-size="7.85" text-anchor="middle" fill="#2a2a2a" stroke="#2a2a2a" stroke-width="0.3" textLength="19.8" lengthAdjust="spacingAndGlyphs">GND2</text>
<text x="409.7" y="322" font-size="7.85" text-anchor="middle" fill="#2a2a2a" stroke="#2a2a2a" stroke-width="0.3" textLength="18.4" lengthAdjust="spacingAndGlyphs">OUTP</text>
<text x="409.7" y="346.2" font-size="7.85" text-anchor="middle" fill="#2a2a2a" stroke="#2a2a2a" stroke-width="0.3" textLength="19.8" lengthAdjust="spacingAndGlyphs">OUTN</text>
<polyline points="425.6,271.7 490.9,271.7" fill="none" stroke="#1c1c1c" stroke-width="1.4"/>
<circle cx="493.6" cy="271.7" r="2.7" fill="#fff" stroke="#1c1c1c" stroke-width="1"/>
<circle cx="447.4" cy="271.7" r="2.2" fill="#1c1c1c"/>
<circle cx="472.6" cy="271.7" r="2.2" fill="#1c1c1c"/>
<polyline points="447.4,271.7 447.4,281.5" fill="none" stroke="#1c1c1c" stroke-width="1.4"/>
<polyline points="440.1,281.5 454.7,281.5" fill="none" stroke="#1c1c1c" stroke-width="1.4"/>
<polyline points="440.1,285.5 454.7,285.5" fill="none" stroke="#1c1c1c" stroke-width="1.4"/>
<polyline points="447.4,285.5 447.4,295.7" fill="none" stroke="#1c1c1c" stroke-width="1.4"/>
<polyline points="472.6,271.7 472.6,281.5" fill="none" stroke="#1c1c1c" stroke-width="1.4"/>
<polyline points="465.3,281.5 479.9,281.5" fill="none" stroke="#1c1c1c" stroke-width="1.4"/>
<polyline points="465.3,285.5 479.9,285.5" fill="none" stroke="#1c1c1c" stroke-width="1.4"/>
<polyline points="472.6,285.5 472.6,295.7" fill="none" stroke="#1c1c1c" stroke-width="1.4"/>
<polyline points="425.6,295.7 472.6,295.7" fill="none" stroke="#1c1c1c" stroke-width="1.4"/>
<circle cx="447.4" cy="295.7" r="2.2" fill="#1c1c1c"/>
<circle cx="472.6" cy="295.7" r="2.2" fill="#1c1c1c"/>
<polyline points="472.6,295.7 472.6,302.5" fill="none" stroke="#1c1c1c" stroke-width="1.4"/>
<polyline points="465.7,302.5 479.5,302.5" fill="none" stroke="#1c1c1c" stroke-width="1.2"/>
<polyline points="468.3,304.7 476.9,304.7" fill="none" stroke="#1c1c1c" stroke-width="1.1"/>
<polyline points="470.4,306.9 474.8,306.9" fill="none" stroke="#1c1c1c" stroke-width="1"/>
<text x="438" y="267.8" font-size="7.6" text-anchor="start" fill="#2a2a2a" stroke="#2a2a2a" stroke-width="0.3" textLength="19.7" lengthAdjust="spacingAndGlyphs">0.1μF</text>
<text x="478.2" y="267.8" font-size="7.6" text-anchor="start" fill="#2a2a2a" stroke="#2a2a2a" stroke-width="0.3" textLength="29.8" lengthAdjust="spacingAndGlyphs">3.0<tspan dy="-1.6">~</tspan><tspan dy="1.6">5.5V</tspan></text>
<text x="483.9" y="287.3" font-size="7.6" text-anchor="start" fill="#2a2a2a" stroke="#2a2a2a" stroke-width="0.3" textLength="19.2" lengthAdjust="spacingAndGlyphs">2.2μF</text>
<polyline points="425.6,319.3 454.7,319.3 473.8,343.4 483.3,343.4" fill="none" stroke="#1c1c1c" stroke-width="1.4"/>
<polyline points="425.6,343.4 454.7,343.4 473.8,319.3 483.3,319.3" fill="none" stroke="#1c1c1c" stroke-width="1.4"/>
<polyline points="483.1,319.3 484.64,322.2 488.06,316.4 491.49,322.2 494.91,316.4 498.34,322.2 501.76,316.4 503.3,319.3" fill="none" stroke="#1c1c1c" stroke-width="1.4"/>
<polyline points="483.1,343.4 484.64,346.3 488.06,340.5 491.49,346.3 494.91,340.5 498.34,346.3 501.76,340.5 503.3,343.4" fill="none" stroke="#1c1c1c" stroke-width="1.4"/>
<polyline points="503.3,319.3 523.4,319.3" fill="none" stroke="#1c1c1c" stroke-width="1.4"/>
<polyline points="503.3,343.4 523.4,343.4" fill="none" stroke="#1c1c1c" stroke-width="1.4"/>
<polygon points="523.4,307.5 523.4,355.3 571.3,331.4" fill="none" stroke="#1c1c1c" stroke-width="1.3"/>
<polyline points="547.8,307 547.8,319.7" fill="none" stroke="#1c1c1c" stroke-width="1.4"/>
<polyline points="547.8,343.1 547.8,356" fill="none" stroke="#1c1c1c" stroke-width="1.4"/>
<text x="529.6" y="322" font-size="6.5" text-anchor="middle" fill="#aaa" stroke="#aaa" stroke-width="0.3">-</text>
<text x="529.6" y="345.9" font-size="6.5" text-anchor="middle" fill="#999" stroke="#999" stroke-width="0.3">+</text>
<polyline points="571.3,331.4 577.9,331.4" fill="none" stroke="#1c1c1c" stroke-width="1.4"/>
<circle cx="577.9" cy="331.4" r="2.2" fill="#1c1c1c"/>
<polyline points="577.9,331.4 577.9,288.6 557.6,288.6" fill="none" stroke="#1c1c1c" stroke-width="1.4"/>
<polyline points="537.6,288.6 539.27,285.5 542.6,291.7 545.93,285.5 549.27,291.7 552.6,285.5 555.93,291.7 557.6,288.6" fill="none" stroke="#1c1c1c" stroke-width="1.4"/>
<polyline points="537.6,288.6 513.2,288.6 513.2,319.3" fill="none" stroke="#1c1c1c" stroke-width="1.4"/>
<polyline points="513.2,343.4 513.2,345.5" fill="none" stroke="#1c1c1c" stroke-width="1.4"/>
<polyline points="513.2,345.5 516.3,348.08 510.1,351.31 516.3,354.54 510.1,357.76 516.3,360.99 510.1,364.22 513.2,366.8" fill="none" stroke="#1c1c1c" stroke-width="1.4"/>
<polyline points="513.2,366.8 513.2,370.5" fill="none" stroke="#1c1c1c" stroke-width="1.4"/>
<circle cx="513.2" cy="373.3" r="2.8" fill="#fff" stroke="#1c1c1c" stroke-width="1"/>
<text x="519" y="375.6" font-size="7.6" text-anchor="start" fill="#2a2a2a" stroke="#2a2a2a" stroke-width="0.3" textLength="14.7" lengthAdjust="spacingAndGlyphs">Vref</text>
<circle cx="199.2" cy="391.9" r="2.9" fill="#fff" stroke="#1c1c1c" stroke-width="1"/>
<polyline points="202.1,391.9 261.4,391.9" fill="none" stroke="#1c1c1c" stroke-width="1.4"/>
<circle cx="215" cy="391.9" r="2.2" fill="#1c1c1c"/>
<circle cx="239.8" cy="391.9" r="2.2" fill="#1c1c1c"/>
<polyline points="215,391.9 215,401.5" fill="none" stroke="#1c1c1c" stroke-width="1.4"/>
<polyline points="207.7,401.5 222.3,401.5" fill="none" stroke="#1c1c1c" stroke-width="1.4"/>
<polyline points="207.7,405.5 222.3,405.5" fill="none" stroke="#1c1c1c" stroke-width="1.4"/>
<polyline points="215,405.5 215,415.5" fill="none" stroke="#1c1c1c" stroke-width="1.4"/>
<polyline points="239.8,391.9 239.8,401.5" fill="none" stroke="#1c1c1c" stroke-width="1.4"/>
<polyline points="232.5,401.5 247.1,401.5" fill="none" stroke="#1c1c1c" stroke-width="1.4"/>
<polyline points="232.5,405.5 247.1,405.5" fill="none" stroke="#1c1c1c" stroke-width="1.4"/>
<polyline points="239.8,405.5 239.8,415.5" fill="none" stroke="#1c1c1c" stroke-width="1.4"/>
<polyline points="174.6,415.5 261.4,415.5" fill="none" stroke="#1c1c1c" stroke-width="1.4"/>
<circle cx="187.5" cy="415.5" r="2.2" fill="#1c1c1c"/>
<circle cx="215" cy="415.5" r="2.2" fill="#1c1c1c"/>
<circle cx="239.8" cy="415.5" r="2.2" fill="#1c1c1c"/>
<circle cx="251.4" cy="415.5" r="2.2" fill="#1c1c1c"/>
<polyline points="239.8,415.5 239.8,425.9" fill="none" stroke="#1c1c1c" stroke-width="1.4"/>
<polyline points="232.5,425.9 247.1,425.9" fill="none" stroke="#1c1c1c" stroke-width="1.4"/>
<polyline points="232.5,429.6 247.1,429.6" fill="none" stroke="#1c1c1c" stroke-width="1.4"/>
<polyline points="239.8,429.6 239.8,439.3" fill="none" stroke="#1c1c1c" stroke-width="1.4"/>
<polyline points="187.5,415.5 187.5,439.3 195.6,439.3" fill="none" stroke="#1c1c1c" stroke-width="1.4"/>
<polyline points="195.4,439.3 196.95,442.2 200.39,436.4 203.83,442.2 207.27,436.4 210.71,442.2 214.15,436.4 215.7,439.3" fill="none" stroke="#1c1c1c" stroke-width="1.4"/>
<polyline points="215.6,439.3 261.4,439.3" fill="none" stroke="#1c1c1c" stroke-width="1.4"/>
<circle cx="227.1" cy="439.3" r="2.2" fill="#1c1c1c"/>
<circle cx="239.8" cy="439.3" r="2.2" fill="#1c1c1c"/>
<polyline points="227.1,439.3 227.1,449.3" fill="none" stroke="#1c1c1c" stroke-width="1.4"/>
<polyline points="219.8,449.3 234.4,449.3" fill="none" stroke="#1c1c1c" stroke-width="1.4"/>
<polyline points="219.8,453.2 234.4,453.2" fill="none" stroke="#1c1c1c" stroke-width="1.4"/>
<polyline points="227.1,453.2 227.1,463.4" fill="none" stroke="#1c1c1c" stroke-width="1.4"/>
<polyline points="251.4,415.5 251.4,449.3" fill="none" stroke="#1c1c1c" stroke-width="1.4"/>
<polyline points="244.1,449.3 258.7,449.3" fill="none" stroke="#1c1c1c" stroke-width="1.4"/>
<polyline points="244.1,453.2 258.7,453.2" fill="none" stroke="#1c1c1c" stroke-width="1.4"/>
<polyline points="251.4,453.2 251.4,463.4" fill="none" stroke="#1c1c1c" stroke-width="1.4"/>
<polyline points="181.3,463.4 195.6,463.4" fill="none" stroke="#1c1c1c" stroke-width="1.4"/>
<polyline points="195.4,463.4 196.95,466.3 200.39,460.5 203.83,466.3 207.27,460.5 210.71,466.3 214.15,460.5 215.7,463.4" fill="none" stroke="#1c1c1c" stroke-width="1.4"/>
<polyline points="215.6,463.4 261.4,463.4" fill="none" stroke="#1c1c1c" stroke-width="1.4"/>
<circle cx="227.1" cy="463.4" r="2.2" fill="#1c1c1c"/>
<circle cx="251.4" cy="463.4" r="2.2" fill="#1c1c1c"/>
<text x="187" y="386.3" font-size="7.6" text-anchor="start" fill="#2a2a2a" stroke="#2a2a2a" stroke-width="0.3" textLength="30.6" lengthAdjust="spacingAndGlyphs">3.0<tspan dy="-1.6">~</tspan><tspan dy="1.6">5.5V</tspan></text>
<text x="229.8" y="387.4" font-size="7.6" text-anchor="start" fill="#2a2a2a" stroke="#2a2a2a" stroke-width="0.3" textLength="19.4" lengthAdjust="spacingAndGlyphs">0.1μF</text>
<text x="188.4" y="405.8" font-size="7.6" text-anchor="start" fill="#2a2a2a" stroke="#2a2a2a" stroke-width="0.3" textLength="16.2" lengthAdjust="spacingAndGlyphs">10μF</text>
<rect x="261.4" y="383.2" width="72.2" height="88.8" fill="none" stroke="#1c1c1c" stroke-width="1.4"/>
<text x="262.8" y="380.2" font-size="7.6" text-anchor="start" fill="#2a2a2a" stroke="#2a2a2a" stroke-width="0.3" textLength="27.9" lengthAdjust="spacingAndGlyphs">NSI1300</text>
<text x="278" y="394.8" font-size="7.85" text-anchor="middle" fill="#2a2a2a" stroke="#2a2a2a" stroke-width="0.3" textLength="18.9" lengthAdjust="spacingAndGlyphs">VDD1</text>
<text x="278" y="418.6" font-size="7.85" text-anchor="middle" fill="#2a2a2a" stroke="#2a2a2a" stroke-width="0.3" textLength="19.8" lengthAdjust="spacingAndGlyphs">GND1</text>
<text x="278" y="442" font-size="7.85" text-anchor="middle" fill="#2a2a2a" stroke="#2a2a2a" stroke-width="0.3" textLength="12.2" lengthAdjust="spacingAndGlyphs">INN</text>
<text x="278" y="466.2" font-size="7.85" text-anchor="middle" fill="#2a2a2a" stroke="#2a2a2a" stroke-width="0.3" textLength="11.8" lengthAdjust="spacingAndGlyphs">INP</text>
<text x="317.7" y="394.8" font-size="7.85" text-anchor="middle" fill="#2a2a2a" stroke="#2a2a2a" stroke-width="0.3" textLength="19.4" lengthAdjust="spacingAndGlyphs">VDD2</text>
<text x="317.7" y="418.6" font-size="7.85" text-anchor="middle" fill="#2a2a2a" stroke="#2a2a2a" stroke-width="0.3" textLength="19.8" lengthAdjust="spacingAndGlyphs">GND2</text>
<text x="317.7" y="442" font-size="7.85" text-anchor="middle" fill="#2a2a2a" stroke="#2a2a2a" stroke-width="0.3" textLength="18.4" lengthAdjust="spacingAndGlyphs">OUTP</text>
<text x="317.7" y="466.2" font-size="7.85" text-anchor="middle" fill="#2a2a2a" stroke="#2a2a2a" stroke-width="0.3" textLength="19.8" lengthAdjust="spacingAndGlyphs">OUTN</text>
<polyline points="333.6,391.7 398.9,391.7" fill="none" stroke="#1c1c1c" stroke-width="1.4"/>
<circle cx="401.6" cy="391.7" r="2.7" fill="#fff" stroke="#1c1c1c" stroke-width="1"/>
<circle cx="355.4" cy="391.7" r="2.2" fill="#1c1c1c"/>
<circle cx="380.6" cy="391.7" r="2.2" fill="#1c1c1c"/>
<polyline points="355.4,391.7 355.4,401.5" fill="none" stroke="#1c1c1c" stroke-width="1.4"/>
<polyline points="348.1,401.5 362.7,401.5" fill="none" stroke="#1c1c1c" stroke-width="1.4"/>
<polyline points="348.1,405.5 362.7,405.5" fill="none" stroke="#1c1c1c" stroke-width="1.4"/>
<polyline points="355.4,405.5 355.4,415.7" fill="none" stroke="#1c1c1c" stroke-width="1.4"/>
<polyline points="380.6,391.7 380.6,401.5" fill="none" stroke="#1c1c1c" stroke-width="1.4"/>
<polyline points="373.3,401.5 387.9,401.5" fill="none" stroke="#1c1c1c" stroke-width="1.4"/>
<polyline points="373.3,405.5 387.9,405.5" fill="none" stroke="#1c1c1c" stroke-width="1.4"/>
<polyline points="380.6,405.5 380.6,415.7" fill="none" stroke="#1c1c1c" stroke-width="1.4"/>
<polyline points="333.6,415.7 380.6,415.7" fill="none" stroke="#1c1c1c" stroke-width="1.4"/>
<circle cx="355.4" cy="415.7" r="2.2" fill="#1c1c1c"/>
<circle cx="380.6" cy="415.7" r="2.2" fill="#1c1c1c"/>
<polyline points="380.6,415.7 380.6,422.5" fill="none" stroke="#1c1c1c" stroke-width="1.4"/>
<polyline points="373.7,422.5 387.5,422.5" fill="none" stroke="#1c1c1c" stroke-width="1.2"/>
<polyline points="376.3,424.7 384.9,424.7" fill="none" stroke="#1c1c1c" stroke-width="1.1"/>
<polyline points="378.4,426.9 382.8,426.9" fill="none" stroke="#1c1c1c" stroke-width="1"/>
<text x="346" y="387.8" font-size="7.6" text-anchor="start" fill="#2a2a2a" stroke="#2a2a2a" stroke-width="0.3" textLength="19.7" lengthAdjust="spacingAndGlyphs">0.1μF</text>
<text x="386.2" y="387.8" font-size="7.6" text-anchor="start" fill="#2a2a2a" stroke="#2a2a2a" stroke-width="0.3" textLength="29.8" lengthAdjust="spacingAndGlyphs">3.0<tspan dy="-1.6">~</tspan><tspan dy="1.6">5.5V</tspan></text>
<text x="391.9" y="407.3" font-size="7.6" text-anchor="start" fill="#2a2a2a" stroke="#2a2a2a" stroke-width="0.3" textLength="19.2" lengthAdjust="spacingAndGlyphs">2.2μF</text>
<polyline points="333.6,439.3 362.7,439.3 381.8,463.4 391.3,463.4" fill="none" stroke="#1c1c1c" stroke-width="1.4"/>
<polyline points="333.6,463.4 362.7,463.4 381.8,439.3 391.3,439.3" fill="none" stroke="#1c1c1c" stroke-width="1.4"/>
<polyline points="391.1,439.3 392.64,442.2 396.06,436.4 399.49,442.2 402.91,436.4 406.34,442.2 409.76,436.4 411.3,439.3" fill="none" stroke="#1c1c1c" stroke-width="1.4"/>
<polyline points="391.1,463.4 392.64,466.3 396.06,460.5 399.49,466.3 402.91,460.5 406.34,466.3 409.76,460.5 411.3,463.4" fill="none" stroke="#1c1c1c" stroke-width="1.4"/>
<polyline points="411.3,439.3 431.4,439.3" fill="none" stroke="#1c1c1c" stroke-width="1.4"/>
<polyline points="411.3,463.4 431.4,463.4" fill="none" stroke="#1c1c1c" stroke-width="1.4"/>
<polygon points="431.4,427.5 431.4,475.3 479.3,451.4" fill="none" stroke="#1c1c1c" stroke-width="1.3"/>
<polyline points="455.8,427 455.8,439.7" fill="none" stroke="#1c1c1c" stroke-width="1.4"/>
<polyline points="455.8,463.1 455.8,476" fill="none" stroke="#1c1c1c" stroke-width="1.4"/>
<text x="437.6" y="442" font-size="6.5" text-anchor="middle" fill="#555" stroke="#555" stroke-width="0.3">-</text>
<text x="437.6" y="465.9" font-size="6.5" text-anchor="middle" fill="#555" stroke="#555" stroke-width="0.3">+</text>
<polyline points="479.3,451.4 490.6,451.4" fill="none" stroke="#1c1c1c" stroke-width="1.4"/>
<circle cx="490.6" cy="451.4" r="2.2" fill="#1c1c1c"/>
<polyline points="490.6,451.4 490.6,408.6 465.6,408.6" fill="none" stroke="#1c1c1c" stroke-width="1.4"/>
<polyline points="445.6,408.6 447.27,405.5 450.6,411.7 453.93,405.5 457.27,411.7 460.6,405.5 463.93,411.7 465.6,408.6" fill="none" stroke="#1c1c1c" stroke-width="1.4"/>
<polyline points="445.6,408.6 421.2,408.6 421.2,439.3" fill="none" stroke="#1c1c1c" stroke-width="1.4"/>
<polyline points="421.2,463.4 421.2,465.5" fill="none" stroke="#1c1c1c" stroke-width="1.4"/>
<polyline points="421.2,465.5 424.3,468.08 418.1,471.31 424.3,474.54 418.1,477.76 424.3,480.99 418.1,484.22 421.2,486.8" fill="none" stroke="#1c1c1c" stroke-width="1.4"/>
<polyline points="421.2,486.8 421.2,490.5" fill="none" stroke="#1c1c1c" stroke-width="1.4"/>
<circle cx="421.2" cy="493.3" r="2.8" fill="#fff" stroke="#1c1c1c" stroke-width="1"/>
<text x="427" y="495.6" font-size="7.6" text-anchor="start" fill="#2a2a2a" stroke="#2a2a2a" stroke-width="0.3" textLength="14.7" lengthAdjust="spacingAndGlyphs">Vref</text>
<polyline points="577.9,331.4 577.9,376" fill="none" stroke="#1c1c1c" stroke-width="1.4"/>
<polygon points="577.7,384.2 573.4,375.4 582,375.4" fill="#1c1c1c"/>
<polyline points="490.6,451.4 532,451.4" fill="none" stroke="#1c1c1c" stroke-width="1.4"/>
<polygon points="540,451.4 531.5,447.1 531.5,455.7" fill="#1c1c1c"/>
<rect x="540" y="384.3" width="92.2" height="219.3" fill="none" stroke="#1c1c1c" stroke-width="1.4"/>
<text x="586.2" y="498.3" font-size="13.5" text-anchor="middle" fill="#141414" stroke="#141414" stroke-width="0.3" textLength="28.2" lengthAdjust="spacingAndGlyphs">MCU</text></svg>
</body></html>
